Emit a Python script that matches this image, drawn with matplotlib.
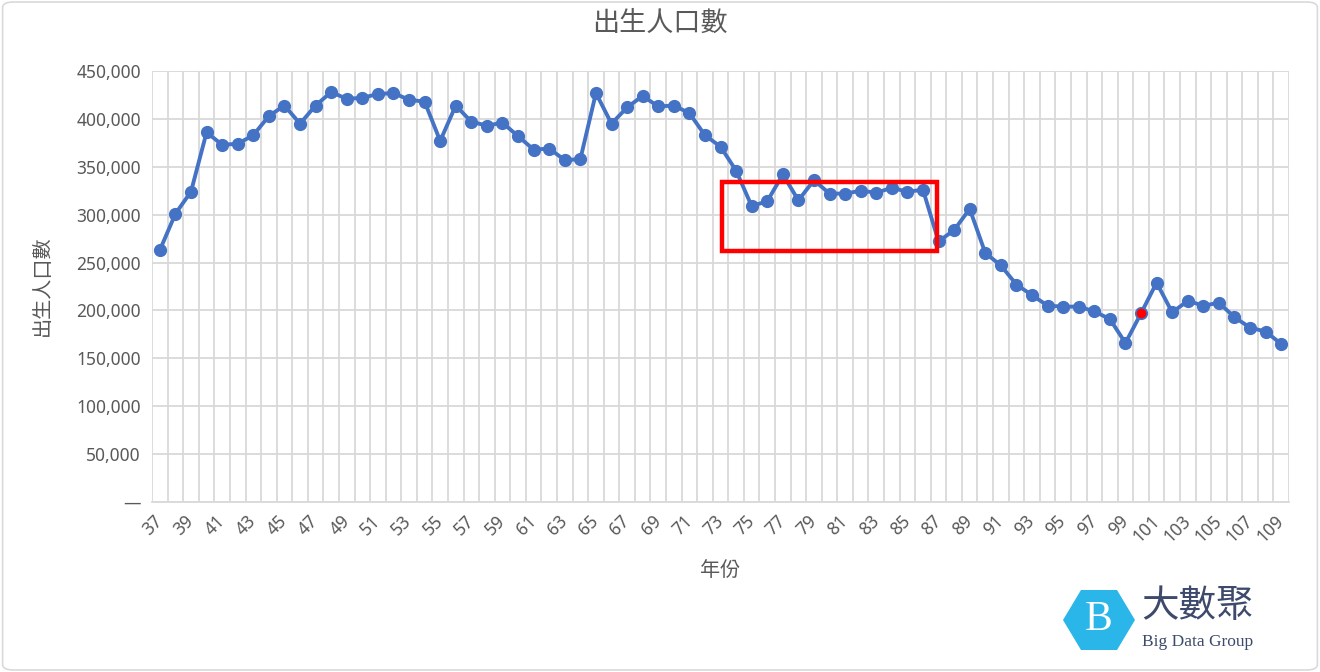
import matplotlib.pyplot as plt
from matplotlib.patches import Rectangle, FancyBboxPatch, Polygon
from matplotlib.ticker import FuncFormatter

plt.rcParams['font.family'] = ['Noto Sans', 'Noto Sans CJK TC', 'DejaVu Sans']

# 民國年份 37..109
years = list(range(37, 110))
births = [
    263000, 301000, 324000, 386000, 373000, 374000, 383000, 403000, 414000, 395000,
    414000, 428000, 421000, 422000, 426000, 427000, 420000, 418000, 377000, 414000,
    397000, 393000, 396000, 382000, 368000, 369000, 357000, 358000, 427000, 395000,
    412000, 424000, 413000, 414000, 406000, 383000, 371000, 346000, 309000, 314000,
    342000, 315000, 336000, 322000, 322000, 325000, 323000, 328000, 324000, 326000,
    272000, 284000, 306000, 260000, 247000, 227000, 216000, 205000, 204000, 204000,
    199000, 191000, 166000, 197000, 229000, 198000, 210000, 205000, 208000, 193000,
    182000, 178000, 165000,
]
highlight_year = 100
box_years = (73.1, 86.9)
box_values = (262000, 334000)

text_color = '#595959'
grid_color = '#D9D9D9'
line_color = '#4472C4'
cjk = ['Noto Sans CJK TC', 'DejaVu Sans']

W, H = 1320, 672
fig = plt.figure(figsize=(13.2, 6.72), dpi=100)
fig.patches.append(FancyBboxPatch((0.002, 0.003), 0.996, 0.994, boxstyle='round,pad=0,rounding_size=0.008',
                                  transform=fig.transFigure, fill=False, edgecolor='#D9D9D9', lw=1.2))
ax = fig.add_axes([0.1152, 0.2530, 0.8613, 0.6413])

ax.plot(years, births, color=line_color, lw=2.8, marker='o', markersize=8.5,
        markerfacecolor=line_color, markeredgecolor=line_color, zorder=3, solid_capstyle='round')
hi = years.index(highlight_year)
ax.plot([years[hi]], [births[hi]], marker='o', markersize=6, color='#FF0000', zorder=4, linestyle='none')

ax.add_patch(Rectangle((box_years[0], box_values[0]), box_years[1] - box_years[0], box_values[1] - box_values[0],
                       fill=False, edgecolor='#FF0000', lw=3.2, zorder=5))

ax.set_xlim(36.5, 109.5)
ax.set_ylim(0, 450000)
ax.set_yticks(range(0, 450001, 50000))
ax.yaxis.set_major_formatter(FuncFormatter(lambda v, p: '—' if v == 0 else f'{int(v):,}'))
ax.set_xticks(years[::2])
ax.set_xticks([y + 0.5 for y in range(36, 110)], minor=True)
ax.set_xticklabels([str(y) for y in years[::2]], rotation=45, ha='right', va='center',
                   rotation_mode='anchor')
ax.tick_params(axis='x', which='both', length=0, pad=12, labelsize=12.5, labelcolor=text_color)
ax.tick_params(axis='y', length=0, pad=8, labelsize=12.5, labelcolor=text_color)

ax.grid(axis='y', color=grid_color, lw=1.3)
ax.grid(axis='x', which='minor', color=grid_color, lw=1.3)
ax.grid(axis='x', which='major', visible=False)
ax.set_axisbelow(True)
for s in ['top', 'right', 'left']:
    ax.spines[s].set_visible(False)
ax.spines['bottom'].set_color(grid_color)
ax.spines['bottom'].set_linewidth(1.3)

fig.text(0.5, 1 - 23 / H, '出生人口數', ha='center', va='center', fontsize=19.5, color=text_color, family=cjk)
fig.text(42 / W, 1 - 286 / H, '出生人口數', ha='center', va='center', rotation=90, fontsize=14.5,
         color=text_color, family=cjk)
fig.text(720 / W, 1 - 571 / H, '年份', ha='center', va='center', fontsize=14.5, color=text_color, family=cjk)

# logo
cx, cy = 1099, 620
hexagon = [(cx - 36, cy), (cx - 18, cy - 30), (cx + 18, cy - 30), (cx + 36, cy), (cx + 18, cy + 30),
           (cx - 18, cy + 30)]
fig.patches.append(Polygon([(x / W, 1 - y / H) for x, y in hexagon], closed=True, transform=fig.transFigure,
                           facecolor='#2BB6EA', edgecolor='none'))
fig.text(cx / W, 1 - cy / H, 'B', ha='center', va='center', fontsize=30, color='white',
         family=['Liberation Serif'])
fig.text(1141 / W, 1 - 607 / H, '大數聚', ha='left', va='center', fontsize=27, color='#3D4A6B', family=cjk)
fig.text(1142 / W, 1 - 642 / H, 'Big Data Group', ha='left', va='center', fontsize=12.5,
         color='#3D4A6B', family=['Liberation Serif'])

fig.savefig('out.png', dpi=100, facecolor='white')
